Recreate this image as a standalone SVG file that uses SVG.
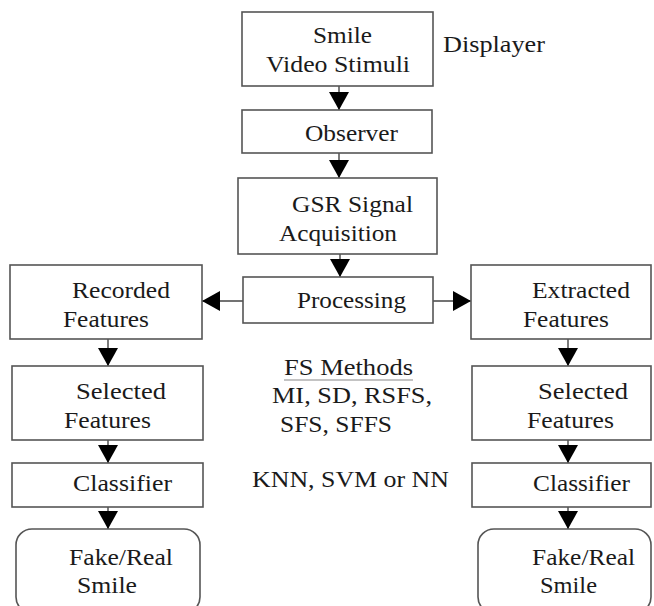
<svg xmlns="http://www.w3.org/2000/svg" width="654" height="606" viewBox="0 0 654 606">
<defs>
<style>
.box{fill:#fff;stroke:#555;stroke-width:1.6}
.t{font-family:"Liberation Serif","Times New Roman",serif;font-size:23px;fill:#1a1a1a}
.c{stroke:#444;stroke-width:1.4;fill:none;marker-end:url(#ah)}
</style>
<marker id="ah" markerUnits="userSpaceOnUse" markerWidth="18" markerHeight="20" refX="18" refY="10" orient="auto" viewBox="0 0 18 20">
<path d="M0,0 L18,10 L0,20 z" fill="#000"/>
</marker>
</defs>
<rect width="654" height="606" fill="#fff"/>
<g id="connectors">
<line class="c" x1="339" y1="86" x2="339" y2="110"/>
<line class="c" x1="339" y1="153" x2="339" y2="178"/>
<line class="c" x1="340" y1="254" x2="340" y2="277"/>
<line class="c" x1="243" y1="301" x2="202" y2="301"/>
<line class="c" x1="433" y1="301" x2="471" y2="301"/>
<line class="c" x1="108" y1="339" x2="108" y2="366"/>
<line class="c" x1="108" y1="440" x2="108" y2="463"/>
<line class="c" x1="108" y1="507" x2="108" y2="529"/>
<line class="c" x1="568" y1="339" x2="568" y2="366"/>
<line class="c" x1="568" y1="440" x2="568" y2="463"/>
<line class="c" x1="568" y1="507" x2="568" y2="529"/>
</g>
<g id="stimuli">
<rect class="box" x="242" y="12" width="191" height="74"/>
<text class="t" x="313" y="43" textLength="59" lengthAdjust="spacingAndGlyphs">Smile</text>
<text class="t" x="266" y="72" textLength="144" lengthAdjust="spacingAndGlyphs">Video Stimuli</text>
</g>
<g id="displayer">
<text class="t" x="443" y="52" textLength="102" lengthAdjust="spacingAndGlyphs">Displayer</text>
</g>
<g id="observer">
<rect class="box" x="242" y="110" width="190" height="43"/>
<text class="t" x="305" y="141" textLength="93" lengthAdjust="spacingAndGlyphs">Observer</text>
</g>
<g id="gsr">
<rect class="box" x="238" y="178" width="199" height="76"/>
<text class="t" x="292" y="212" textLength="121" lengthAdjust="spacingAndGlyphs">GSR Signal</text>
<text class="t" x="279" y="241" textLength="118" lengthAdjust="spacingAndGlyphs">Acquisition</text>
</g>
<g id="processing">
<rect class="box" x="243" y="277" width="190" height="46"/>
<text class="t" x="297" y="308" textLength="109" lengthAdjust="spacingAndGlyphs">Processing</text>
</g>
<g id="recorded">
<rect class="box" x="10" y="265" width="192" height="74"/>
<text class="t" x="72" y="298" textLength="98" lengthAdjust="spacingAndGlyphs">Recorded</text>
<text class="t" x="63" y="327" textLength="86" lengthAdjust="spacingAndGlyphs">Features</text>
</g>
<g id="extracted">
<rect class="box" x="471" y="265" width="180" height="74"/>
<text class="t" x="532" y="298" textLength="98" lengthAdjust="spacingAndGlyphs">Extracted</text>
<text class="t" x="523" y="327" textLength="86" lengthAdjust="spacingAndGlyphs">Features</text>
</g>
<g id="selected-left">
<rect class="box" x="12" y="366" width="191" height="74"/>
<text class="t" x="76" y="399" textLength="90" lengthAdjust="spacingAndGlyphs">Selected</text>
<text class="t" x="64" y="428" textLength="87" lengthAdjust="spacingAndGlyphs">Features</text>
</g>
<g id="selected-right">
<rect class="box" x="472" y="366" width="179" height="74"/>
<text class="t" x="538" y="399" textLength="90" lengthAdjust="spacingAndGlyphs">Selected</text>
<text class="t" x="527" y="428" textLength="87" lengthAdjust="spacingAndGlyphs">Features</text>
</g>
<g id="fs-methods">
<text class="t" x="284" y="375" textLength="129" lengthAdjust="spacingAndGlyphs">FS Methods</text>
<line x1="284" y1="380" x2="413" y2="380" stroke="#888" stroke-width="1.2"/>
<text class="t" x="272" y="403" textLength="160" lengthAdjust="spacingAndGlyphs">MI, SD, RSFS,</text>
<text class="t" x="280" y="432" textLength="112" lengthAdjust="spacingAndGlyphs">SFS, SFFS</text>
</g>
<g id="classifier-left">
<rect class="box" x="12" y="463" width="191" height="44"/>
<text class="t" x="73" y="491" textLength="99" lengthAdjust="spacingAndGlyphs">Classifier</text>
</g>
<g id="classifier-methods">
<text class="t" x="252" y="487" textLength="197" lengthAdjust="spacingAndGlyphs">KNN, SVM or NN</text>
</g>
<g id="classifier-right">
<rect class="box" x="472" y="463" width="179" height="44"/>
<text class="t" x="533" y="491" textLength="97" lengthAdjust="spacingAndGlyphs">Classifier</text>
</g>
<g id="result-left">
<rect class="box" x="16" y="529" width="184" height="84" rx="16" ry="16"/>
<text class="t" x="69" y="565" textLength="104" lengthAdjust="spacingAndGlyphs">Fake/Real</text>
<text class="t" x="77" y="593" textLength="60" lengthAdjust="spacingAndGlyphs">Smile</text>
</g>
<g id="result-right">
<rect class="box" x="478" y="529" width="173" height="84" rx="16" ry="16"/>
<text class="t" x="532" y="565" textLength="103" lengthAdjust="spacingAndGlyphs">Fake/Real</text>
<text class="t" x="540" y="593" textLength="57" lengthAdjust="spacingAndGlyphs">Smile</text>
</g>
</svg>
